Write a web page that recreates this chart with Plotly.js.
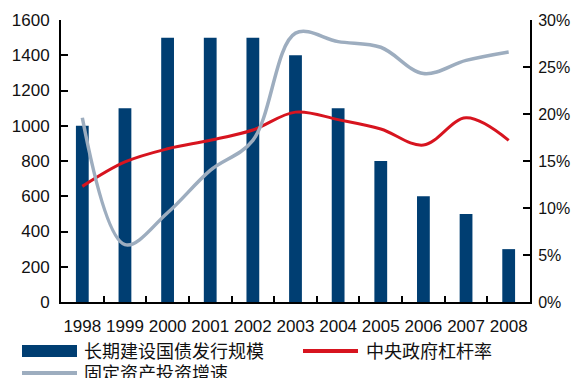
<!DOCTYPE html>
<html>
<head>
<meta charset="utf-8">
<script src="https://cdn.plot.ly/plotly-3.0.1.min.js"></script>
<style>html,body{margin:0;padding:0;background:#fff;}#chart{width:572px;height:378px;}</style>
</head>
<body>
<div id="chart"></div>
<script>
const years = ['1998','1999','2000','2001','2002','2003','2004','2005','2006','2007','2008'];
const bondIssue = [1000, 1100, 1500, 1500, 1500, 1400, 1100, 800, 600, 500, 300];
const leverage = [12.3, 14.9, 16.3, 17.2, 18.3, 20.2, 19.4, 18.4, 16.7, 19.6, 17.2];
const fixedInvGrowth = [19.6, 6.1, 9.5, 14.0, 17.2, 28.6, 27.7, 27.1, 24.3, 25.7, 26.6];
const leftTicks = [0, 200, 400, 600, 800, 1000, 1200, 1400, 1600];
const rightTicks = [0, 5, 10, 15, 20, 25, 30];
const rightTickLabels = ['0%', '5%', '10%', '15%', '20%', '25%', '30%'];
const legendNames = ['长期建设国债发行规模', '中央政府杠杆率', '固定资产投资增速'];

const W = 572, H = 378;
const M = {l: 61, r: 42, t: 20, b: 76};
const pw = W - M.l - M.r, ph = H - M.t - M.b;
const px = x => (x - M.l) / pw;
const py = y => (H - M.b - y) / ph;

const navy = '#003e72', red = '#d7141f', gray = '#9dadbf';
const tickFont = {family: '"Liberation Sans", Arial, sans-serif', size: 17, color: '#111'};
const rightFont = {family: '"Liberation Sans", Arial, sans-serif', size: 16, color: '#111'};
const cjkFont = {family: '"Noto Sans CJK SC", sans-serif', size: 18, color: '#111'};

const traces = [
  {type: 'bar', x: years, y: bondIssue, name: legendNames[0], marker: {color: navy}, width: 0.3, yaxis: 'y', hoverinfo: 'none'},
  {type: 'scatter', mode: 'lines', x: years, y: leverage, name: legendNames[1], line: {color: red, width: 3, shape: 'spline', smoothing: 1}, yaxis: 'y2'},
  {type: 'scatter', mode: 'lines', x: years, y: fixedInvGrowth, name: legendNames[2], line: {color: gray, width: 3.5, shape: 'spline', smoothing: 1}, yaxis: 'y2'}
];

const layout = {
  width: W, height: H,
  margin: M,
  paper_bgcolor: '#fff', plot_bgcolor: '#fff',
  showlegend: false,
  font: tickFont,
  xaxis: {
    type: 'category', range: [-0.5, 10.5], showgrid: false, zeroline: false,
    showline: true, linecolor: '#000', linewidth: 2,
    ticks: 'inside', tickson: 'boundaries', ticklen: 6, tickwidth: 2, tickcolor: '#000',
    tickfont: tickFont, tickangle: 0, ticklabelstandoff: 8
  },
  yaxis: {
    range: [0, 1600], tickvals: leftTicks, showgrid: false, zeroline: false,
    showline: true, linecolor: '#000', linewidth: 2,
    ticks: 'inside', ticklen: 7, tickwidth: 2, tickcolor: '#000',
    tickfont: tickFont, ticklabelstandoff: 6
  },
  yaxis2: {
    range: [0, 30], tickmode: 'array', tickvals: rightTicks, ticktext: rightTickLabels, overlaying: 'y', side: 'right',
    showgrid: false, zeroline: false,
    showline: true, linecolor: '#000', linewidth: 2,
    ticks: 'inside', ticklen: 7, tickwidth: 2, tickcolor: '#000',
    tickfont: rightFont, ticklabelstandoff: 3
  },
  shapes: [
    {type: 'rect', xref: 'paper', yref: 'paper', x0: px(22), x1: px(77), y0: py(357), y1: py(345), fillcolor: navy, line: {width: 0}},
    {type: 'line', xref: 'paper', yref: 'paper', x0: px(303), x1: px(358), y0: py(351), y1: py(351), line: {color: red, width: 4}},
    {type: 'line', xref: 'paper', yref: 'paper', x0: px(22), x1: px(77), y0: py(373), y1: py(373), line: {color: gray, width: 4}}
  ],
  annotations: [
    {xref: 'paper', yref: 'paper', x: px(82), y: py(350), xanchor: 'left', yanchor: 'middle', text: legendNames[0], showarrow: false, font: cjkFont},
    {xref: 'paper', yref: 'paper', x: px(364), y: py(350), xanchor: 'left', yanchor: 'middle', text: legendNames[1], showarrow: false, font: cjkFont},
    {xref: 'paper', yref: 'paper', x: px(82), y: py(372), xanchor: 'left', yanchor: 'middle', text: legendNames[2], showarrow: false, font: cjkFont}
  ]
};

Plotly.newPlot('chart', traces, layout, {staticPlot: true, displayModeBar: false});
</script>
</body>
</html>
